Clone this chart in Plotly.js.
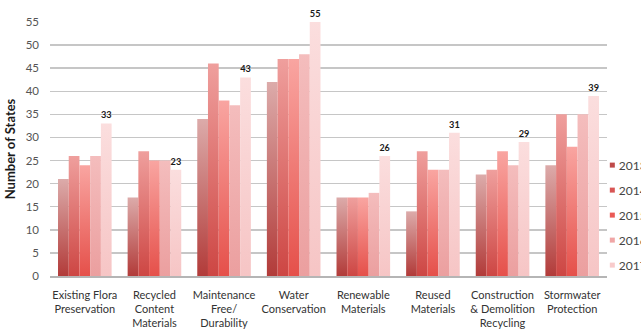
<!DOCTYPE html>
<html>
<head>
<meta charset="utf-8">
<script src="https://cdn.plot.ly/plotly-3.0.1.min.js"></script>
<style>
  html, body { margin: 0; padding: 0; background: #ffffff; }
  #chart { width: 641px; height: 331px; }
</style>
</head>
<body>
<div id="chart"></div>
<script>
// Sustainability practices reported by states, by year
const categories = [
  'Existing Flora<br>Preservation',
  'Recycled<br>Content<br>Materials',
  'Maintenance<br>Free/<br>Durability',
  'Water<br>Conservation',
  'Renewable<br>Materials',
  'Reused<br>Materials',
  'Construction<br>& Demolition<br>Recycling',
  'Stormwater<br>Protection'
];
const years = ['2013', '2014', '2015', '2016', '2017'];

const values2013 = [21, 17, 34, 42, 17, 14, 22, 24];
const values2014 = [26, 27, 46, 47, 17, 27, 23, 35];
const values2015 = [24, 25, 38, 47, 17, 23, 27, 28];
const values2016 = [26, 25, 37, 48, 18, 23, 24, 35];
const values2017 = [33, 23, 43, 55, 26, 31, 29, 39];

const yTicks = [0, 5, 10, 15, 20, 25, 30, 35, 40, 45, 50, 55];

// Solid colours (legend swatches) and top/bottom gradient stops per year
const solid = ['#bf4a49', '#d85554', '#ea5a55', '#f0a6a6', '#f8cbcb'];
const gradTop = ['#dcabaa', '#ef9f9d', '#f9a5a1', '#f4bdbd', '#fbdede'];
const gradBottom = ['#b23b39', '#cd4643', '#e5504a', '#eb9f9f', '#f6c5c5'];

const series = [values2013, values2014, values2015, values2016, values2017];

const FONT = 'Lato, "Open Sans", sans-serif';

const traces = series.map((vals, i) => {
  const t = {
    type: 'bar',
    name: years[i],
    x: categories,
    y: vals,
    legendgroup: 'g' + i,
    marker: { color: solid[i], line: { width: 0 } },
    hoverinfo: 'none'
  };
  if (i === series.length - 1) {
    t.text = vals.map(String);
    t.textposition = 'outside';
    t.textfont = { family: FONT, size: 13, color: '#1a1a1a', weight: 'bold' };
    t.cliponaxis = false;
  }
  return t;
});

const layout = {
  width: 641,
  height: 331,
  margin: { l: 50, r: 34, t: 22, b: 55, autoexpand: false },
  paper_bgcolor: '#ffffff',
  plot_bgcolor: '#ffffff',
  font: { family: FONT, size: 11, color: '#444444' },
  barmode: 'group',
  bargap: 0.23,
  bargroupgap: 0,
  showlegend: true,
  hovermode: false,
  xaxis: {
    type: 'category',
    showgrid: false,
    showline: true,
    linecolor: '#b5b5b5',
    linewidth: 1.5,
    ticks: '',
    ticklabelstandoff: 8,
    tickfont: { family: FONT, size: 11, color: '#333333' },
    automargin: false,
    fixedrange: true
  },
  yaxis: {
    range: [0, 55],
    tickvals: yTicks,
    ticktext: yTicks.map(String),
    showgrid: true,
    gridcolor: '#c6c6c6',
    gridwidth: 1.5,
    zeroline: false,
    showline: false,
    ticks: '',
    ticklabelstandoff: 10,
    tickfont: { family: FONT, size: 11.5, color: '#555555' },
    title: {
      text: 'Number of States',
      font: { family: FONT, size: 13, color: '#1a1a1a', weight: 'bold' },
      standoff: 7
    },
    automargin: false,
    fixedrange: true
  },
  legend: {
    xref: 'container',
    yref: 'container',
    x: 0.903,
    xanchor: 'left',
    y: 0.545,
    yanchor: 'top',
    traceorder: 'grouped',
    tracegroupgap: 6,
    bgcolor: 'rgba(0,0,0,0)',
    font: { family: FONT, size: 12, color: '#444444' }
  }
};

const gd = document.getElementById('chart');

// Give every bar a vertical light-to-dark fill
function applyGradients() {
  const svg = gd.querySelector('svg.main-svg');
  if (!svg) return;
  let defs = svg.querySelector('defs');
  if (!defs) {
    defs = document.createElementNS('http://www.w3.org/2000/svg', 'defs');
    svg.insertBefore(defs, svg.firstChild);
  }
  years.forEach((yr, i) => {
    const id = 'bar-grad-' + yr;
    if (!defs.querySelector('#' + id)) {
      const lg = document.createElementNS('http://www.w3.org/2000/svg', 'linearGradient');
      lg.setAttribute('id', id);
      lg.setAttribute('x1', '0'); lg.setAttribute('y1', '0');
      lg.setAttribute('x2', '0'); lg.setAttribute('y2', '1');
      [[0, gradTop[i]], [1, gradBottom[i]]].forEach(([off, col]) => {
        const s = document.createElementNS('http://www.w3.org/2000/svg', 'stop');
        s.setAttribute('offset', off);
        s.setAttribute('stop-color', col);
        lg.appendChild(s);
      });
      defs.appendChild(lg);
    }
  });
  const groups = gd.querySelectorAll('.barlayer .trace');
  groups.forEach((g, i) => {
    g.querySelectorAll('path').forEach(p => {
      p.style.fill = 'url(#bar-grad-' + years[i] + ')';
    });
  });
  // small square swatches next to the legend text
  gd.querySelectorAll('.legend .legendpoints path').forEach(p => {
    p.setAttribute('d', 'M16,2.5H11V-2.5H16Z');
  });
  // let legend text run to the edge of the page
  gd.querySelectorAll('.legend').forEach(l => l.removeAttribute('clip-path'));
  gd.querySelectorAll('.legend .scrollbox').forEach(s => s.removeAttribute('clip-path'));
}

Plotly.newPlot(gd, traces, layout, { displayModeBar: false, staticPlot: true }).then(() => {
  applyGradients();
  gd.on('plotly_afterplot', applyGradients);
});
</script>
</body>
</html>
